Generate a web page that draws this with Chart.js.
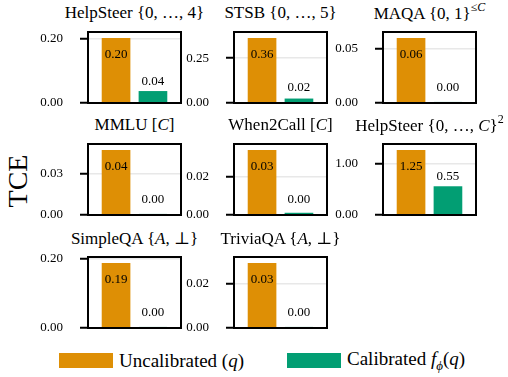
<!DOCTYPE html>
<html>
<head>
<meta charset="utf-8">
<script src="https://cdn.jsdelivr.net/npm/chart.js@4"></script>
<style>
  body { margin: 0; width: 508px; height: 377px; background: #fff; position: relative; overflow: hidden;
         font-family: "Liberation Serif", "DejaVu Serif", serif; color: #000; }
  .panel { position: absolute; display: block; }
  .ttl { position: absolute; font-size: 17px; white-space: nowrap; transform: translate(-50%, -50%); }
  .ttl sup { font-size: 12px; position: relative; top: -2px; }
  .ylab { position: absolute; left: 18px; top: 181px; font-size: 28px; transform: translate(-50%, -50%) rotate(-90deg); }
  .leg { position: absolute; top: 353px; width: 54px; height: 15px; }
  .legtxt { position: absolute; top: 361px; font-size: 19px; transform: translateY(-50%); white-space: nowrap; }
</style>
</head>
<body>
<div class="ylab">TCE</div>
<div class="leg" style="left:59px;background:#DE8F05"></div>
<div class="legtxt" style="left:119px">Uncalibrated (<i>q</i>)</div>
<div class="leg" style="left:287px;background:#029E73"></div>
<div class="legtxt" style="left:347px">Calibrated <i>f</i><sub style="font-size:13px"><i>ϕ</i></sub>(<i>q</i>)</div>
<script>
// panel titles (math bits in italics)
const titles = [
  'HelpSteer {0, …, 4}',
  'STSB {0, …, 5}',
  'MAQA {0, 1}<sup>≤<i>C</i></sup>',
  'MMLU [<i>C</i>]',
  'When2Call [<i>C</i>]',
  'HelpSteer {0, …, <i>C</i>}<sup>2</sup>',
  'SimpleQA {<i>A</i>, ⊥}',
  'TriviaQA {<i>A</i>, ⊥}'
];
const uncalibrated = [0.200, 0.360, 0.059, 0.039, 0.034, 1.25, 0.186, 0.029];
const calibrated   = [0.036, 0.023, 0.0004, 0.0003, 0.001, 0.55, 0.0003, 0.0003];
const tickValues = [0.20, 0.25, 0.05, 0.025, 0.02, 1.00, 0.20, 0.02];
const tickLabels = ['0.20', '0.25', '0.05', '0.03', '0.02', '1.00', '0.20', '0.02'];

const ORANGE = '#DE8F05';
const GREEN = '#029E73';
const colLeft = [88, 234, 383];
const rowTop = [32, 144, 257];
const PW = 93, PH = 71;
const AXW = 60, PADT = 10, PADR = 4, PADB = 10;

// black box round the plot area
const framePlugin = {
  id: 'frame',
  afterDraw(chart) {
    const a = chart.chartArea, ctx = chart.ctx;
    ctx.save();
    ctx.strokeStyle = '#000';
    ctx.lineWidth = 2;
    ctx.strokeRect(a.left, a.top, a.right - a.left, a.bottom - a.top);
    ctx.restore();
  }
};

// value text on / above each bar
const valuePlugin = {
  id: 'values',
  afterDatasetsDraw(chart) {
    const ctx = chart.ctx;
    const vals = chart.data.datasets[0].data.map(d => d.y);
    const big = vals.indexOf(Math.max(...vals));
    ctx.save();
    ctx.font = '13px "Liberation Serif"';
    ctx.fillStyle = '#000';
    ctx.textAlign = 'center';
    ctx.textBaseline = 'middle';
    chart.getDatasetMeta(0).data.forEach((bar, i) => {
      let y;
      if (i === big) y = bar.y + 16;
      else y = Math.min(bar.y, bar.base - 5) - 10;
      ctx.fillText(vals[i].toFixed(2), bar.x, y);
    });
    ctx.restore();
  }
};

for (let i = 0; i < titles.length; i++) {
  const col = i % 3, row = Math.floor(i / 3);
  const left = colLeft[col], top = rowTop[row];

  const t = document.createElement('div');
  t.className = 'ttl';
  t.style.left = (left + PW / 2) + 'px';
  t.style.top = (top - 19) + 'px';
  t.innerHTML = titles[i];
  document.body.appendChild(t);

  const w = AXW + PW + PADR, h = PADT + PH + PADB;
  const cv = document.createElement('canvas');
  cv.className = 'panel';
  cv.width = w;
  cv.height = h;
  cv.style.left = (left - AXW) + 'px';
  cv.style.top = (top - PADT) + 'px';
  cv.style.width = w + 'px';
  cv.style.height = h + 'px';
  document.body.appendChild(cv);

  const ymax = 1.1 * Math.max(uncalibrated[i], calibrated[i]);
  const tv = tickValues[i], tl = tickLabels[i];

  new Chart(cv, {
    type: 'bar',
    data: {
      datasets: [{
        data: [{ x: 0, y: uncalibrated[i] }, { x: 1, y: calibrated[i] }],
        backgroundColor: [ORANGE, GREEN],
        barThickness: 28,
        borderWidth: 0
      }]
    },
    options: {
      responsive: false,
      animation: false,
      layout: { padding: { top: PADT, right: PADR, bottom: PADB, left: 0 } },
      plugins: { legend: { display: false }, tooltip: { enabled: false } },
      scales: {
        x: { type: 'linear', min: -0.76, max: 1.76, offset: false, display: false },
        y: {
          min: 0, max: ymax,
          afterFit: s => { s.width = AXW; s.paddingTop = 0; s.paddingBottom = 0; },
          afterBuildTicks: s => { s.ticks = [{ value: 0 }, { value: tv }]; },
          border: { display: false },
          grid: {
            color: c => (c.tick && c.tick.value === 0) ? 'rgba(0,0,0,0)' : '#e8e8e8',
            lineWidth: 1.5,
            drawTicks: true,
            tickLength: 8,
            tickColor: '#000',
            tickWidth: 2
          },
          ticks: {
            padding: 17,
            color: '#000',
            font: { family: 'Liberation Serif', size: 13 },
            callback: v => v === 0 ? '0.00' : tl
          }
        }
      }
    },
    plugins: [framePlugin, valuePlugin]
  });
}
</script>
</body>
</html>
